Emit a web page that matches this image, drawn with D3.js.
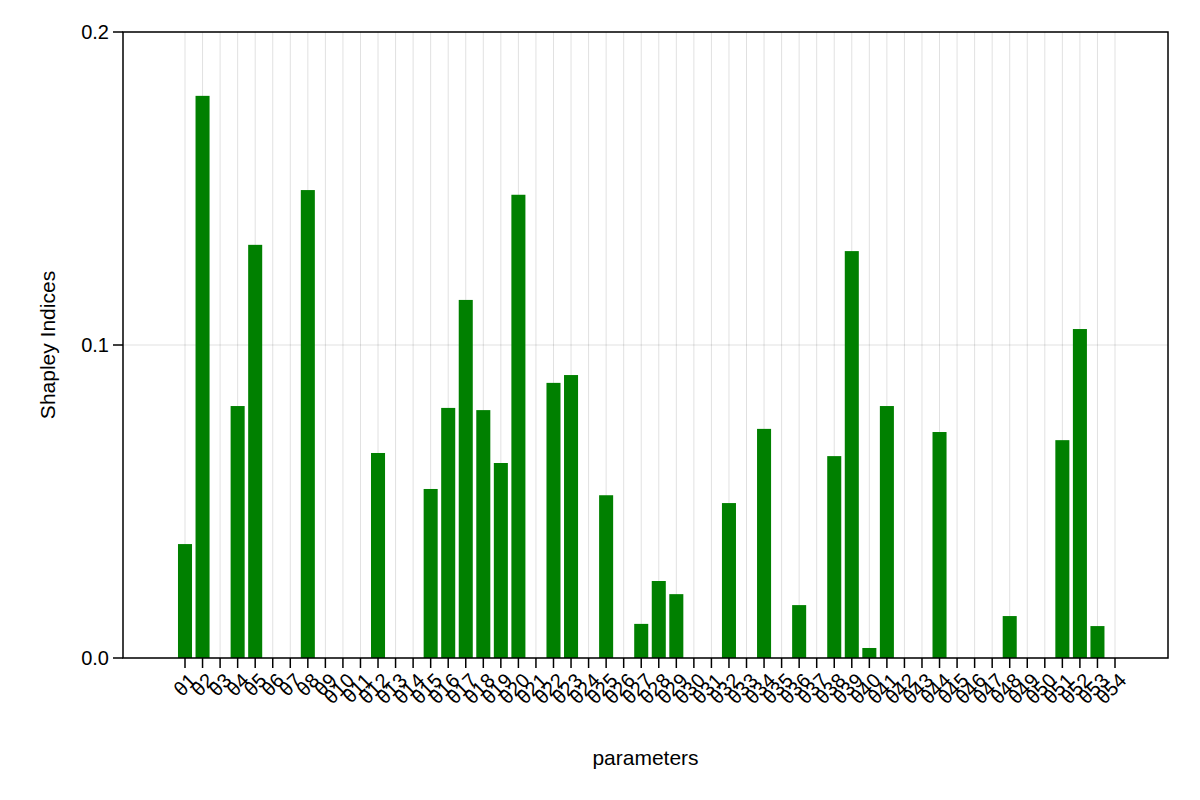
<!DOCTYPE html>
<html><head><meta charset="utf-8">
<script src="https://cdn.jsdelivr.net/npm/d3@7"></script>
<style>body{margin:0;background:#fff}</style>
</head><body>
<script>
const params = d3.range(1, 55).map(i => 'θ' + i);
const shapley = [0.0364, 0.1796, 0, 0.0805, 0.132, 0, 0, 0.1495, 0, 0, 0, 0.0655, 0, 0, 0.054, 0.0799, 0.1144, 0.0792, 0.0623, 0.148,
  0, 0.0879, 0.0904, 0, 0.052, 0, 0.0109, 0.0246, 0.0204, 0, 0, 0.0495, 0, 0.0732, 0, 0.0169, 0, 0.0645, 0.130, 0.0032,
  0.0805, 0, 0, 0.0722, 0, 0, 0, 0.0134, 0, 0, 0.0696, 0.1051, 0.0102, 0];
const yTicks = [0, 0.1, 0.2];

const width = 1200, height = 800;
const frame = { left: 123, right: 1168, top: 32, bottom: 658 };
const font = 'Liberation Sans, Arial, sans-serif';

const svg = d3.select('body').append('svg').attr('width', width).attr('height', height);

const x = d3.scaleLinear().domain([1, 54]).range([185, 1115]);
const y = d3.scaleLinear().domain([0, 0.2]).range([frame.bottom, frame.top]);
const step = x(2) - x(1);

// grid
svg.append('g').selectAll('line').data(params).enter().append('line')
  .attr('x1', (d, i) => x(i + 1)).attr('x2', (d, i) => x(i + 1))
  .attr('y1', frame.top).attr('y2', frame.bottom)
  .attr('stroke', '#000').attr('stroke-opacity', 0.12).attr('stroke-width', 1);
svg.append('g').selectAll('line').data(yTicks).enter().append('line')
  .attr('x1', frame.left).attr('x2', frame.right)
  .attr('y1', d => y(d)).attr('y2', d => y(d))
  .attr('stroke', '#000').attr('stroke-opacity', 0.12).attr('stroke-width', 1);

// bars
svg.append('g').selectAll('rect').data(shapley).enter().append('rect')
  .attr('x', (d, i) => x(i + 1) - step * 0.4)
  .attr('width', step * 0.8)
  .attr('y', d => y(d))
  .attr('height', d => y(0) - y(d))
  .attr('fill', '#008000');

// frame
svg.append('rect').attr('x', frame.left).attr('y', frame.top)
  .attr('width', frame.right - frame.left).attr('height', frame.bottom - frame.top)
  .attr('fill', 'none').attr('stroke', '#000').attr('stroke-width', 1.5);

// x axis
const xg = svg.append('g');
xg.selectAll('line').data(params).enter().append('line')
  .attr('x1', (d, i) => x(i + 1)).attr('x2', (d, i) => x(i + 1))
  .attr('y1', frame.bottom).attr('y2', frame.bottom + 10)
  .attr('stroke', '#000').attr('stroke-width', 1.5);
xg.selectAll('text').data(params).enter().append('text')
  .attr('transform', (d, i) => `translate(${x(i + 1) + 9},${frame.bottom + 20}) rotate(-45)`)
  .attr('text-anchor', 'end').attr('dominant-baseline', 'middle')
  .attr('font-family', font).attr('font-size', 20).text(d => d);

// y axis
const yg = svg.append('g');
yg.selectAll('line').data(yTicks).enter().append('line')
  .attr('x1', frame.left - 10).attr('x2', frame.left)
  .attr('y1', d => y(d)).attr('y2', d => y(d))
  .attr('stroke', '#000').attr('stroke-width', 1.5);
yg.selectAll('text').data(yTicks).enter().append('text')
  .attr('x', frame.left - 14).attr('y', d => y(d)).attr('dy', '0.35em')
  .attr('text-anchor', 'end').attr('font-family', font).attr('font-size', 20)
  .text(d => d.toFixed(1));

svg.append('text').attr('x', (frame.left + frame.right) / 2).attr('y', 765)
  .attr('text-anchor', 'middle').attr('font-family', font).attr('font-size', 21).text('parameters');
svg.append('text').attr('transform', `translate(55,${(frame.top + frame.bottom) / 2}) rotate(-90)`)
  .attr('text-anchor', 'middle').attr('font-family', font).attr('font-size', 21).text('Shapley Indices');
</script>
</body></html>
